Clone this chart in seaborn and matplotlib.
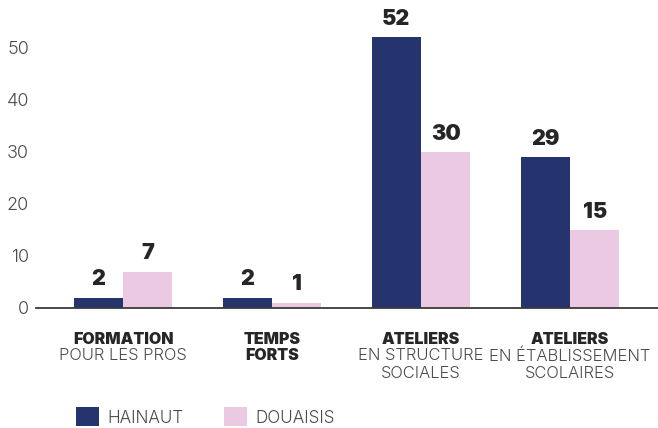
import matplotlib
matplotlib.use("Agg")
import matplotlib.pyplot as plt
import matplotlib.transforms as mtransforms
import pandas as pd
import seaborn as sns

# Data
categories = ["FORMATION", "TEMPS FORTS", "ATELIERS STRUCTURE", "ATELIERS ETABLISSEMENT"]
label_heads = ["FORMATION", "TEMPS\nFORTS", "ATELIERS", "ATELIERS"]
label_tails = ["POUR LES PROS", "", "EN STRUCTURE\nSOCIALES", "EN ÉTABLISSEMENT\nSCOLAIRES"]
series = ["HAINAUT", "DOUAISIS"]
hainaut = [2, 2, 52, 29]
douaisis = [7, 1, 30, 15]
y_ticks = [0, 10, 20, 30, 40, 50]

NAVY = "#25346F"
PINK = "#ECC9E2"
DARK = "#262626"
GREY = "#4A4A4A"

df = pd.DataFrame({
    "categorie": categories * 2,
    "zone": [series[0]] * 4 + [series[1]] * 4,
    "valeur": hainaut + douaisis,
})

sns.set_theme(style="white")
plt.rcParams["font.family"] = ["Inter", "DejaVu Sans"]

fig = plt.figure(figsize=(6.58, 4.28), dpi=100)
ax = fig.add_axes([36 / 658, (428 - 308) / 428, 1 - 36 / 658, 308 / 428])

sns.barplot(data=df, x="categorie", y="valeur", hue="zone",
            palette=[NAVY, PINK], width=0.66, gap=0, saturation=1,
            errorbar=None, ax=ax, linewidth=0)

ax.set_xlim(-0.584, 3.59)
ax.set_ylim(0, 59.2)
ax.set_yticks(y_ticks)
ax.set_yticklabels([str(t) for t in y_ticks], fontsize=13, color=GREY,
                   fontweight=300)
ax.tick_params(axis="y", length=0, pad=5)
ax.set_xticks(range(len(categories)))
ax.set_xticklabels([""] * len(categories))
ax.tick_params(axis="x", length=0)
ax.set_xlabel("")
ax.set_ylabel("")
for side in ["top", "right", "left"]:
    ax.spines[side].set_visible(False)
ax.spines["bottom"].set_color("#3a3a3a")
ax.spines["bottom"].set_linewidth(1.3)

# value labels above each bar
for cont in ax.containers:
    ax.bar_label(cont, fmt="%d", padding=6, fontsize=15.5, fontweight=900,
                 color=DARK)

# two-tone category labels under the axis
trans = mtransforms.blended_transform_factory(ax.transData, fig.transFigure)
line_h = 17 / 428
y0 = 1 - 339 / 428
for i, (head, tail) in enumerate(zip(label_heads, label_tails)):
    n_head = head.count("\n") + 1
    for j, line in enumerate(head.split("\n")):
        ax.text(i, y0 - j * line_h, line, transform=trans, ha="center",
                va="center", fontsize=11.5, fontweight=900, color=DARK)
    if tail:
        for j, line in enumerate(tail.split("\n")):
            ax.text(i, y0 - (n_head + j) * line_h, line, transform=trans,
                    ha="center", va="center", fontsize=11.9,
                    fontweight=300, color=GREY)

# legend along the bottom
handles, labels = ax.get_legend_handles_labels()
ax.get_legend().remove()
fig.legend(handles, labels, loc="center left",
           bbox_to_anchor=(61 / 658, 1 - 417 / 428), ncol=2, frameon=False,
           handlelength=1.35, handleheight=1.3,
           handletextpad=0.45, columnspacing=2.4, labelcolor=GREY,
           prop={"weight": 300, "size": 12.3})

fig.savefig("out.png", dpi=100)
